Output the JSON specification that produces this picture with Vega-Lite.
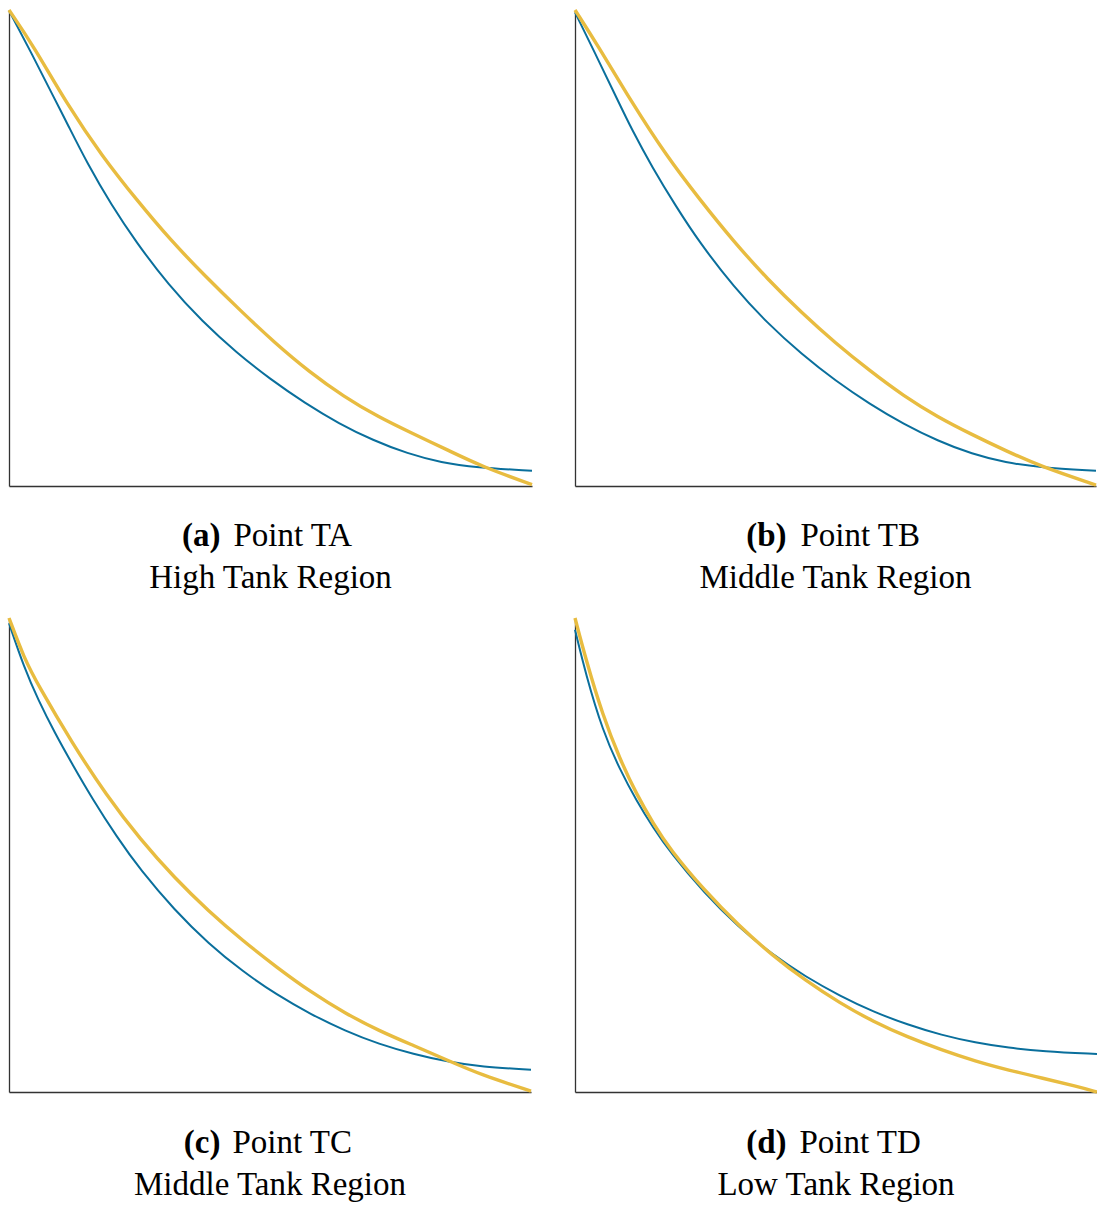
{
  "$schema": "https://vega.github.io/schema/vega-lite/v6.json",
  "padding": {"left": 2, "top": 3, "right": 0, "bottom": 0},
  "background": "white",
  "datasets": {
    "curves": [
      {"panel": "a", "series": "model", "x": 0.0, "y": 0.999},
      {"panel": "a", "series": "model", "x": 0.045, "y": 0.905},
      {"panel": "a", "series": "model", "x": 0.085, "y": 0.818},
      {"panel": "a", "series": "model", "x": 0.112, "y": 0.760},
      {"panel": "a", "series": "model", "x": 0.150, "y": 0.677},
      {"panel": "a", "series": "model", "x": 0.196, "y": 0.590},
      {"panel": "a", "series": "model", "x": 0.242, "y": 0.514},
      {"panel": "a", "series": "model", "x": 0.305, "y": 0.422},
      {"panel": "a", "series": "model", "x": 0.370, "y": 0.345},
      {"panel": "a", "series": "model", "x": 0.435, "y": 0.280},
      {"panel": "a", "series": "model", "x": 0.500, "y": 0.224},
      {"panel": "a", "series": "model", "x": 0.566, "y": 0.174},
      {"panel": "a", "series": "model", "x": 0.631, "y": 0.131},
      {"panel": "a", "series": "model", "x": 0.696, "y": 0.096},
      {"panel": "a", "series": "model", "x": 0.762, "y": 0.068},
      {"panel": "a", "series": "model", "x": 0.827, "y": 0.049},
      {"panel": "a", "series": "model", "x": 0.892, "y": 0.039},
      {"panel": "a", "series": "model", "x": 1.0, "y": 0.032},
      {"panel": "a", "series": "measured", "x": 0.0, "y": 1.0},
      {"panel": "a", "series": "measured", "x": 0.046, "y": 0.926},
      {"panel": "a", "series": "measured", "x": 0.112, "y": 0.800},
      {"panel": "a", "series": "measured", "x": 0.178, "y": 0.693},
      {"panel": "a", "series": "measured", "x": 0.244, "y": 0.601},
      {"panel": "a", "series": "measured", "x": 0.310, "y": 0.515},
      {"panel": "a", "series": "measured", "x": 0.376, "y": 0.440},
      {"panel": "a", "series": "measured", "x": 0.442, "y": 0.369},
      {"panel": "a", "series": "measured", "x": 0.508, "y": 0.301},
      {"panel": "a", "series": "measured", "x": 0.574, "y": 0.240},
      {"panel": "a", "series": "measured", "x": 0.640, "y": 0.188},
      {"panel": "a", "series": "measured", "x": 0.706, "y": 0.145},
      {"panel": "a", "series": "measured", "x": 0.772, "y": 0.110},
      {"panel": "a", "series": "measured", "x": 0.838, "y": 0.076},
      {"panel": "a", "series": "measured", "x": 0.904, "y": 0.041},
      {"panel": "a", "series": "measured", "x": 1.0, "y": 0.003},

      {"panel": "b", "series": "model", "x": 0.0, "y": 0.995},
      {"panel": "b", "series": "model", "x": 0.044, "y": 0.897},
      {"panel": "b", "series": "model", "x": 0.083, "y": 0.808},
      {"panel": "b", "series": "model", "x": 0.109, "y": 0.749},
      {"panel": "b", "series": "model", "x": 0.148, "y": 0.670},
      {"panel": "b", "series": "model", "x": 0.194, "y": 0.587},
      {"panel": "b", "series": "model", "x": 0.240, "y": 0.510},
      {"panel": "b", "series": "model", "x": 0.305, "y": 0.418},
      {"panel": "b", "series": "model", "x": 0.370, "y": 0.341},
      {"panel": "b", "series": "model", "x": 0.435, "y": 0.277},
      {"panel": "b", "series": "model", "x": 0.500, "y": 0.221},
      {"panel": "b", "series": "model", "x": 0.566, "y": 0.172},
      {"panel": "b", "series": "model", "x": 0.631, "y": 0.130},
      {"panel": "b", "series": "model", "x": 0.696, "y": 0.095},
      {"panel": "b", "series": "model", "x": 0.762, "y": 0.067},
      {"panel": "b", "series": "model", "x": 0.827, "y": 0.049},
      {"panel": "b", "series": "model", "x": 0.892, "y": 0.039},
      {"panel": "b", "series": "model", "x": 1.0, "y": 0.032},
      {"panel": "b", "series": "measured", "x": 0.0, "y": 1.0},
      {"panel": "b", "series": "measured", "x": 0.044, "y": 0.925},
      {"panel": "b", "series": "measured", "x": 0.109, "y": 0.806},
      {"panel": "b", "series": "measured", "x": 0.174, "y": 0.696},
      {"panel": "b", "series": "measured", "x": 0.240, "y": 0.601},
      {"panel": "b", "series": "measured", "x": 0.305, "y": 0.513},
      {"panel": "b", "series": "measured", "x": 0.370, "y": 0.434},
      {"panel": "b", "series": "measured", "x": 0.435, "y": 0.364},
      {"panel": "b", "series": "measured", "x": 0.500, "y": 0.300},
      {"panel": "b", "series": "measured", "x": 0.566, "y": 0.242},
      {"panel": "b", "series": "measured", "x": 0.631, "y": 0.189},
      {"panel": "b", "series": "measured", "x": 0.696, "y": 0.145},
      {"panel": "b", "series": "measured", "x": 0.762, "y": 0.108},
      {"panel": "b", "series": "measured", "x": 0.827, "y": 0.074},
      {"panel": "b", "series": "measured", "x": 0.892, "y": 0.042},
      {"panel": "b", "series": "measured", "x": 1.0, "y": 0.002},

      {"panel": "c", "series": "model", "x": 0.0, "y": 0.989},
      {"panel": "c", "series": "model", "x": 0.029, "y": 0.895},
      {"panel": "c", "series": "model", "x": 0.056, "y": 0.827},
      {"panel": "c", "series": "model", "x": 0.088, "y": 0.757},
      {"panel": "c", "series": "model", "x": 0.121, "y": 0.692},
      {"panel": "c", "series": "model", "x": 0.160, "y": 0.618},
      {"panel": "c", "series": "model", "x": 0.206, "y": 0.539},
      {"panel": "c", "series": "model", "x": 0.252, "y": 0.468},
      {"panel": "c", "series": "model", "x": 0.317, "y": 0.384},
      {"panel": "c", "series": "model", "x": 0.382, "y": 0.313},
      {"panel": "c", "series": "model", "x": 0.448, "y": 0.254},
      {"panel": "c", "series": "model", "x": 0.513, "y": 0.205},
      {"panel": "c", "series": "model", "x": 0.578, "y": 0.164},
      {"panel": "c", "series": "model", "x": 0.644, "y": 0.129},
      {"panel": "c", "series": "model", "x": 0.709, "y": 0.101},
      {"panel": "c", "series": "model", "x": 0.775, "y": 0.080},
      {"panel": "c", "series": "model", "x": 0.840, "y": 0.064},
      {"panel": "c", "series": "model", "x": 0.905, "y": 0.053},
      {"panel": "c", "series": "model", "x": 1.0, "y": 0.047},
      {"panel": "c", "series": "measured", "x": 0.0, "y": 1.0},
      {"panel": "c", "series": "measured", "x": 0.029, "y": 0.915},
      {"panel": "c", "series": "measured", "x": 0.056, "y": 0.858},
      {"panel": "c", "series": "measured", "x": 0.121, "y": 0.736},
      {"panel": "c", "series": "measured", "x": 0.186, "y": 0.627},
      {"panel": "c", "series": "measured", "x": 0.252, "y": 0.532},
      {"panel": "c", "series": "measured", "x": 0.317, "y": 0.452},
      {"panel": "c", "series": "measured", "x": 0.382, "y": 0.382},
      {"panel": "c", "series": "measured", "x": 0.448, "y": 0.319},
      {"panel": "c", "series": "measured", "x": 0.513, "y": 0.263},
      {"panel": "c", "series": "measured", "x": 0.578, "y": 0.211},
      {"panel": "c", "series": "measured", "x": 0.644, "y": 0.166},
      {"panel": "c", "series": "measured", "x": 0.709, "y": 0.129},
      {"panel": "c", "series": "measured", "x": 0.775, "y": 0.098},
      {"panel": "c", "series": "measured", "x": 0.840, "y": 0.067},
      {"panel": "c", "series": "measured", "x": 0.905, "y": 0.036},
      {"panel": "c", "series": "measured", "x": 1.0, "y": 0.002},

      {"panel": "d", "series": "model", "x": 0.0, "y": 0.975},
      {"panel": "d", "series": "model", "x": 0.021, "y": 0.880},
      {"panel": "d", "series": "model", "x": 0.053, "y": 0.762},
      {"panel": "d", "series": "model", "x": 0.086, "y": 0.680},
      {"panel": "d", "series": "model", "x": 0.118, "y": 0.614},
      {"panel": "d", "series": "model", "x": 0.150, "y": 0.557},
      {"panel": "d", "series": "model", "x": 0.182, "y": 0.506},
      {"panel": "d", "series": "model", "x": 0.248, "y": 0.419},
      {"panel": "d", "series": "model", "x": 0.313, "y": 0.348},
      {"panel": "d", "series": "model", "x": 0.378, "y": 0.290},
      {"panel": "d", "series": "model", "x": 0.442, "y": 0.243},
      {"panel": "d", "series": "model", "x": 0.507, "y": 0.203},
      {"panel": "d", "series": "model", "x": 0.572, "y": 0.169},
      {"panel": "d", "series": "model", "x": 0.637, "y": 0.142},
      {"panel": "d", "series": "model", "x": 0.702, "y": 0.120},
      {"panel": "d", "series": "model", "x": 0.767, "y": 0.104},
      {"panel": "d", "series": "model", "x": 0.831, "y": 0.093},
      {"panel": "d", "series": "model", "x": 0.896, "y": 0.086},
      {"panel": "d", "series": "model", "x": 1.0, "y": 0.080},
      {"panel": "d", "series": "measured", "x": 0.0, "y": 1.0},
      {"panel": "d", "series": "measured", "x": 0.021, "y": 0.912},
      {"panel": "d", "series": "measured", "x": 0.053, "y": 0.795},
      {"panel": "d", "series": "measured", "x": 0.086, "y": 0.702},
      {"panel": "d", "series": "measured", "x": 0.118, "y": 0.628},
      {"panel": "d", "series": "measured", "x": 0.150, "y": 0.566},
      {"panel": "d", "series": "measured", "x": 0.182, "y": 0.512},
      {"panel": "d", "series": "measured", "x": 0.248, "y": 0.425},
      {"panel": "d", "series": "measured", "x": 0.313, "y": 0.352},
      {"panel": "d", "series": "measured", "x": 0.378, "y": 0.288},
      {"panel": "d", "series": "measured", "x": 0.442, "y": 0.235},
      {"panel": "d", "series": "measured", "x": 0.507, "y": 0.188},
      {"panel": "d", "series": "measured", "x": 0.572, "y": 0.148},
      {"panel": "d", "series": "measured", "x": 0.637, "y": 0.116},
      {"panel": "d", "series": "measured", "x": 0.702, "y": 0.089},
      {"panel": "d", "series": "measured", "x": 0.767, "y": 0.065},
      {"panel": "d", "series": "measured", "x": 0.831, "y": 0.046},
      {"panel": "d", "series": "measured", "x": 0.896, "y": 0.029},
      {"panel": "d", "series": "measured", "x": 0.961, "y": 0.012},
      {"panel": "d", "series": "measured", "x": 1.0, "y": 0.0}
    ]
  },
  "data": {"name": "curves"},
  "columns": 2,
  "spacing": {"row": 132, "column": 43},
  "bounds": "flush",
  "concat": [
    {
      "width": 523, "height": 476,
      "transform": [{"filter": "datum.panel === 'a'"}],
      "encoding": {
        "x": {"field": "x", "type": "quantitative", "scale": {"domain": [0, 1], "nice": false},
              "axis": {"title": "Point TA", "titleX": 224, "titleY": 59}},
        "y": {"field": "y", "type": "quantitative", "scale": {"domain": [0, 1], "nice": false},
              "axis": {"title": "(a)", "titleX": 211, "titleY": 535}}
      },
      "layer": [
        {"transform": [{"filter": "datum.series === 'model'"}], "mark": {"type": "line", "color": "#0a6f9c", "strokeWidth": 2, "interpolate": "basis"}},
        {"transform": [{"filter": "datum.series === 'measured'"}], "mark": {"type": "line", "color": "#e8bc40", "strokeWidth": 3.4, "interpolate": "basis"}}
      ],
      "title": {"text": "High Tank Region"}
    },
    {
      "width": 521, "height": 476,
      "transform": [{"filter": "datum.panel === 'b'"}],
      "encoding": {
        "x": {"field": "x", "type": "quantitative", "scale": {"domain": [0, 1], "nice": false},
              "axis": {"title": "Point TB", "titleX": 225, "titleY": 59}},
        "y": {"field": "y", "type": "quantitative", "scale": {"domain": [0, 1], "nice": false},
              "axis": {"title": "(b)", "titleX": 211, "titleY": 535}}
      },
      "layer": [
        {"transform": [{"filter": "datum.series === 'model'"}], "mark": {"type": "line", "color": "#0a6f9c", "strokeWidth": 2, "interpolate": "basis"}},
        {"transform": [{"filter": "datum.series === 'measured'"}], "mark": {"type": "line", "color": "#e8bc40", "strokeWidth": 3.4, "interpolate": "basis"}}
      ],
      "title": {"text": "Middle Tank Region"}
    },
    {
      "width": 522, "height": 474,
      "transform": [{"filter": "datum.panel === 'c'"}],
      "encoding": {
        "x": {"field": "x", "type": "quantitative", "scale": {"domain": [0, 1], "nice": false},
              "axis": {"title": "Point TC", "titleX": 223, "titleY": 60}},
        "y": {"field": "y", "type": "quantitative", "scale": {"domain": [0, 1], "nice": false},
              "axis": {"title": "(c)", "titleX": 211, "titleY": 534}}
      },
      "layer": [
        {"transform": [{"filter": "datum.series === 'model'"}], "mark": {"type": "line", "color": "#0a6f9c", "strokeWidth": 2, "interpolate": "basis"}},
        {"transform": [{"filter": "datum.series === 'measured'"}], "mark": {"type": "line", "color": "#e8bc40", "strokeWidth": 3.4, "interpolate": "basis"}}
      ],
      "title": {"text": "Middle Tank Region"}
    },
    {
      "width": 522, "height": 474,
      "transform": [{"filter": "datum.panel === 'd'"}],
      "encoding": {
        "x": {"field": "x", "type": "quantitative", "scale": {"domain": [0, 1], "nice": false},
              "axis": {"title": "Point TD", "titleX": 224, "titleY": 60}},
        "y": {"field": "y", "type": "quantitative", "scale": {"domain": [0, 1], "nice": false},
              "axis": {"title": "(d)", "titleX": 211, "titleY": 534}}
      },
      "layer": [
        {"transform": [{"filter": "datum.series === 'model'"}], "mark": {"type": "line", "color": "#0a6f9c", "strokeWidth": 2, "interpolate": "basis"}},
        {"transform": [{"filter": "datum.series === 'measured'"}], "mark": {"type": "line", "color": "#e8bc40", "strokeWidth": 3.4, "interpolate": "basis"}}
      ],
      "title": {"text": "Low Tank Region"}
    }
  ],
  "config": {
    "view": {"stroke": null},
    "font": "Liberation Serif",
    "axis": {
      "grid": false, "ticks": false, "labels": false,
      "domainColor": "#333333", "domainWidth": 1.3,
      "titleFont": "Liberation Serif", "titleFontSize": 33, "titleColor": "#000000",
      "titleBaseline": "alphabetic", "titlePadding": 0
    },
    "axisX": {"titleFontWeight": "normal", "titleAlign": "left", "titleAngle": 0},
    "axisY": {"titleFontWeight": "bold", "titleAlign": "right", "titleAngle": 0},
    "title": {
      "orient": "bottom", "anchor": "middle", "frame": "group",
      "font": "Liberation Serif", "fontSize": 33, "fontWeight": "normal", "color": "#000000",
      "baseline": "alphabetic", "offset": 10
    }
  }
}
